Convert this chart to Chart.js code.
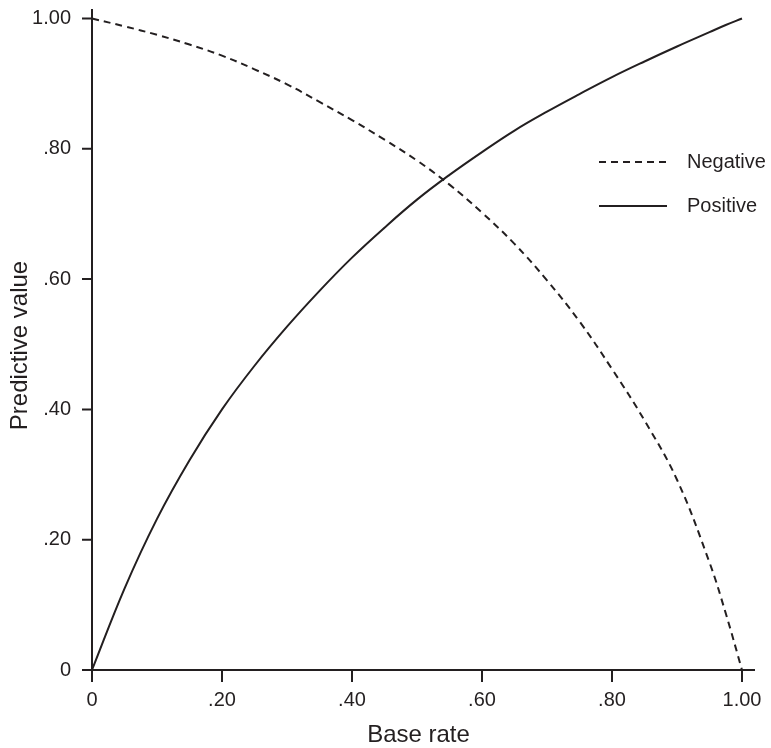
<!DOCTYPE html>
<html>
<head>
<meta charset="utf-8">
<script src="https://cdn.jsdelivr.net/npm/chart.js@4"></script>
<style>
  body { margin: 0; background: #fff; }
  #wrap { width: 771px; height: 748px; }
</style>
</head>
<body>
<div id="wrap"><canvas id="chart"></canvas></div>
<script>
// valores
const baseRates = [0, .05, .10, .15, .20, .25, .30, .35, .40, .45, .50, .55, .60, .65, .70, .75, .80, .85, .90, .95, .975, 1.00];
const positiveValues = [0, .125, .232, .322, .400, .467, .527, .582, .633, .679, .722, .760, .795, .828, .857, .884, .910, .934, .957, .979, .990, 1.00];
const negativeValues = [1.00, .988, .975, .960, .943, .922, .899, .872, .844, .814, .782, .745, .702, .654, .598, .535, .462, .383, .292, .165, .087, 0];

const xTicks = [0, .20, .40, .60, .80, 1.00];
const xTickLabels = ['0', '.20', '.40', '.60', '.80', '1.00'];
const yTicks = [0, .20, .40, .60, .80, 1.00];
const yTickLabels = ['0', '.20', '.40', '.60', '.80', '1.00'];

const INK = '#231f20';
const FAMILY = "'Liberation Sans', Arial, sans-serif";
const TICK_FONT = { family: FAMILY, size: 20 };
const TITLE_FONT = { family: FAMILY, size: 24 };

// eixos e legenda desenhados à mão
const axesPlugin = {
    id: 'axes',
    afterDraw(chart) {
        const ctx = chart.ctx;
        const area = chart.chartArea;
        const xs = chart.scales.x;
        const ys = chart.scales.y;
        const x0 = xs.getPixelForValue(0);
        const y0 = ys.getPixelForValue(0);

        ctx.save();
        ctx.strokeStyle = INK;
        ctx.lineWidth = 2;
        ctx.beginPath();
        ctx.moveTo(area.left, y0);
        ctx.lineTo(area.right, y0);
        ctx.moveTo(x0, area.top);
        ctx.lineTo(x0, area.bottom);
        yTicks.forEach(v => {
            const p = ys.getPixelForValue(v);
            ctx.moveTo(x0 - 10, p);
            ctx.lineTo(x0, p);
        });
        xTicks.forEach(v => {
            const p = xs.getPixelForValue(v);
            ctx.moveTo(p, y0);
            ctx.lineTo(p, y0 + 12);
        });
        ctx.stroke();

        // legenda
        ctx.font = `${TICK_FONT.size}px ${FAMILY}`;
        ctx.fillStyle = INK;
        ctx.textBaseline = 'middle';
        const items = [
            { label: 'Negative', dash: [7, 5], y: 162 },
            { label: 'Positive', dash: [], y: 206 }
        ];
        items.forEach(it => {
            ctx.beginPath();
            ctx.setLineDash(it.dash);
            ctx.lineWidth = 2;
            ctx.moveTo(599, it.y);
            ctx.lineTo(667, it.y);
            ctx.stroke();
            ctx.setLineDash([]);
            ctx.fillText(it.label, 687, it.y);
        });
        ctx.restore();
    }
};

const ctx = document.getElementById('chart').getContext('2d');
new Chart(ctx, {
    type: 'line',
    data: {
        datasets: [
            {
                label: 'Negative',
                data: baseRates.map((x, i) => ({ x: x, y: negativeValues[i] })),
                borderColor: INK,
                borderWidth: 2,
                borderDash: [7, 5],
                pointRadius: 0,
                tension: 0.4,
                fill: false
            },
            {
                label: 'Positive',
                data: baseRates.map((x, i) => ({ x: x, y: positiveValues[i] })),
                borderColor: INK,
                borderWidth: 2,
                pointRadius: 0,
                tension: 0.4,
                fill: false
            }
        ]
    },
    options: {
        responsive: true,
        maintainAspectRatio: false,
        animation: false,
        layout: { padding: { top: 9, right: 16, left: 0, bottom: 0 } },
        plugins: {
            legend: { display: false },
            tooltip: { enabled: false }
        },
        scales: {
            x: {
                type: 'linear',
                min: -10 / 650,
                max: 1 + 13 / 650,
                grid: { display: false, drawTicks: false },
                border: { display: false },
                afterFit: s => { s.height = 66; s.paddingLeft = 0; s.paddingRight = 0; },
                afterBuildTicks: s => { s.ticks = xTicks.map(v => ({ value: v })); },
                ticks: {
                    color: INK,
                    font: TICK_FONT,
                    padding: 6,
                    maxRotation: 0,
                    callback: (v) => xTickLabels[xTicks.indexOf(v)]
                },
                title: {
                    display: true,
                    text: 'Base rate',
                    color: INK,
                    font: TITLE_FONT,
                    padding: { top: 0, bottom: -2 }
                }
            },
            y: {
                type: 'linear',
                min: -12 / 651,
                max: 1 + 9.5 / 651,
                grid: { display: false, drawTicks: false },
                border: { display: false },
                afterFit: s => { s.width = 82; s.paddingTop = 0; s.paddingBottom = 0; },
                afterBuildTicks: s => { s.ticks = yTicks.map(v => ({ value: v })); },
                ticks: {
                    color: INK,
                    font: TICK_FONT,
                    padding: 11,
                    callback: (v) => yTickLabels[yTicks.indexOf(v)]
                },
                title: {
                    display: true,
                    text: 'Predictive value',
                    color: INK,
                    font: TITLE_FONT,
                    padding: { top: 6, bottom: 0 }
                }
            }
        }
    },
    plugins: [axesPlugin]
});
</script>
</body>
</html>
